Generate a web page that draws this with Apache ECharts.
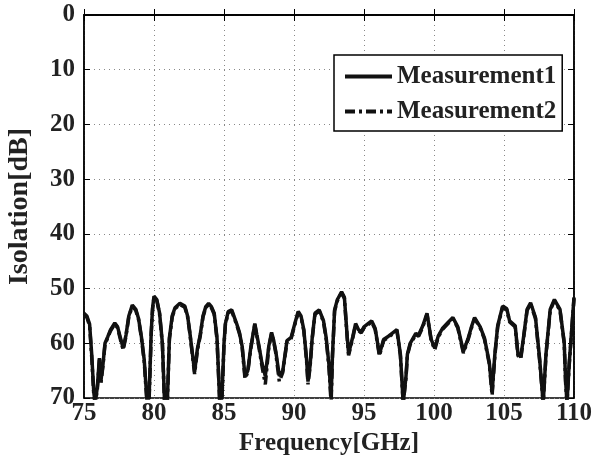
<!DOCTYPE html>
<html>
<head>
<meta charset="utf-8">
<script src="https://cdn.jsdelivr.net/npm/echarts@6/dist/echarts.min.js"></script>
<style>
html, body { margin: 0; padding: 0; background: #fff; }
#chart { width: 596px; height: 455px; }
</style>
</head>
<body>
<div id="chart"></div>
<script>
// frequency points (GHz)
var freq = [75.0, 75.2, 75.4, 75.55, 75.7, 75.8, 75.95, 76.1, 76.2, 76.35, 76.5, 76.7, 76.9, 77.2, 77.4, 77.6, 77.8, 78.0, 78.2, 78.45,
    78.7, 78.9, 79.1, 79.3, 79.5, 79.65, 79.8, 79.9, 80.0, 80.2, 80.4, 80.6, 80.75, 80.95, 81.1, 81.3, 81.5, 81.85, 82.2, 82.4,
    82.55, 82.75, 82.9, 83.1, 83.3, 83.5, 83.7, 83.9, 84.1, 84.3, 84.5, 84.7, 84.85, 85.0, 85.1, 85.3, 85.55, 85.9, 86.1, 86.3,
    86.5, 86.7, 86.9, 87.2, 87.35, 87.5, 87.7, 87.95, 88.2, 88.4, 88.55, 88.7, 88.95, 89.2, 89.5, 89.8, 90.1, 90.3, 90.5, 90.7,
    90.9, 91.0, 91.15, 91.3, 91.5, 91.8, 92.1, 92.3, 92.5, 92.65, 92.75, 92.9, 93.1, 93.4, 93.6, 93.8, 93.9, 94.2, 94.4, 94.6,
    94.8, 95.0, 95.2, 95.55, 95.8, 96.1, 96.4, 96.75, 97.1, 97.35, 97.6, 97.8, 98.0, 98.1, 98.3, 98.7, 98.9, 99.2, 99.5, 99.8,
    100.05, 100.3, 100.6, 101.0, 101.35, 101.7, 102.1, 102.45, 102.7, 102.9, 103.3, 103.6, 103.95, 104.15, 104.35, 104.55, 104.9, 105.2, 105.4, 105.8,
    106.0, 106.2, 106.4, 106.65, 106.9, 107.25, 107.55, 107.8, 108.0, 108.3, 108.6, 109.0, 109.3, 109.4, 109.5, 109.65, 109.8, 110.0];

// isolation [dB], Measurement1
var meas1 = [54.5, 55, 56.5, 62, 69, 71, 68, 62.7, 67, 64, 60, 58.8, 57.5, 56.3, 57, 59, 60.9, 58.5, 55, 53,
    53.8, 55.5, 58.8, 63, 70.5, 70, 58, 53.5, 51.4, 52, 54.5, 60, 70.5, 71, 59, 55, 53.5, 52.7, 53.2, 55,
    57.8, 62, 65.2, 61, 58.5, 55, 53.3, 52.7, 53.3, 54.5, 59, 71, 70, 60, 56.4, 54.2, 53.9, 56.4, 58, 60.6,
    66, 65, 61, 56.4, 58.5, 60.5, 63.5, 66, 60.5, 58, 59.5, 61.5, 66, 65, 59.5, 58.9, 56, 54.2, 55, 57.5,
    63, 67, 64, 59, 54.5, 53.9, 55.8, 59, 64, 70, 62, 53.9, 52, 50.6, 51.6, 58.8, 61.9, 58.8, 56.4, 57.5,
    57.9, 57, 56.6, 55.9, 57.3, 62, 59.3, 58.7, 58, 57.5, 62, 71, 66, 62, 60, 58.2, 58.5, 56.8, 54.5, 59.3,
    60.9, 58.7, 57.3, 56.2, 55.3, 57, 61.5, 59, 56.8, 55.3, 57, 59, 63.5, 69, 61.9, 56.8, 53.2, 53.7, 55.9, 56.8,
    62, 62.5, 58.8, 53.8, 52.6, 55.3, 63, 71, 61.9, 53.8, 52, 53.8, 59.8, 66.8, 71, 64, 58.8, 51.6];

// isolation [dB], Measurement2
var meas2 = [54.8, 55.2, 56.8, 62.5, 69.5, 71, 68.5, 63, 67.5, 64.2, 60.2, 59, 57.7, 56.5, 57.2, 59.3, 61.2, 58.7, 55.2, 53.2,
    54, 55.7, 59, 63.3, 71, 70.5, 58.3, 53.7, 51.6, 52.2, 54.7, 60.3, 71, 71, 59.3, 55.2, 53.7, 52.9, 53.4, 55.2,
    58, 62.3, 65.6, 61.3, 58.7, 55.2, 53.5, 52.9, 53.5, 54.7, 59.3, 71, 70.5, 60.3, 56.6, 54.4, 54.1, 56.6, 58.2, 60.8,
    66.5, 65.3, 61.2, 56.6, 58.7, 60.8, 64, 67.5, 60.8, 58.2, 59.7, 61.8, 67, 65.3, 59.7, 59.1, 56.2, 54.4, 55.2, 57.7,
    63.3, 67.5, 64.3, 59.2, 54.7, 54.1, 56, 59.3, 64.5, 71, 62.3, 54.1, 52.2, 50.8, 51.8, 59, 62.2, 59, 56.6, 57.7,
    58.1, 57.2, 56.8, 56.1, 57.5, 62.3, 59.5, 58.9, 58.2, 57.7, 62.3, 71, 66.3, 62.2, 60.2, 58.4, 58.7, 57, 54.7, 59.5,
    61.2, 58.9, 57.5, 56.4, 55.5, 57.2, 61.8, 59.2, 57, 55.5, 57.2, 59.2, 63.8, 69.5, 62.2, 57, 53.4, 53.9, 56.1, 57,
    62.3, 62.8, 59, 54, 52.8, 55.5, 63.3, 71, 62.2, 54, 52.2, 54, 60, 67.2, 71, 64.3, 59, 51.8];

var font = 'Liberation Serif';
var chart = echarts.init(document.getElementById('chart'));

function pairs(ys) {
    var out = [];
    for (var i = 0; i < freq.length; i++) {
        out.push([freq[i], ys[i]]);
    }
    return out;
}

var gridLine = { show: true, lineStyle: { color: '#888', type: [1, 4], width: 1 } };
var txt = { fontFamily: font, fontWeight: 'bold', fontSize: 25, color: '#222' };

chart.setOption({
    animation: false,
    backgroundColor: '#fff',
    grid: { left: 84, right: 22, top: 15, bottom: 57, show: true, borderColor: '#000', borderWidth: 1.5,
        containLabel: false, outerBoundsMode: 'none' },
    legend: {
        left: 334, top: 55,
        orient: 'vertical',
        itemWidth: 47, itemHeight: 14, itemGap: 10,
        padding: [9, 6, 7, 9],
        borderColor: '#000', borderWidth: 1.5,
        backgroundColor: '#fff',
        itemStyle: { opacity: 0 },
        lineStyle: { width: 4 },
        textStyle: txt,
        data: ['Measurement1', 'Measurement2']
    },
    xAxis: [{
        type: 'value', min: 75, max: 110, interval: 5,
        name: 'Frequency[GHz]', nameLocation: 'middle', nameGap: 30,
        nameTextStyle: txt,
        axisLine: { show: true, lineStyle: { color: '#000', width: 1.5 } },
        axisTick: { inside: true, length: 6, lineStyle: { color: '#000' } },
        axisLabel: Object.assign({ margin: 3 }, txt),
        splitLine: gridLine
    }, {
        type: 'value', min: 75, max: 110, interval: 5, position: 'top',
        axisLine: { show: true, lineStyle: { color: '#000', width: 1.5 } },
        axisTick: { inside: true, length: 6, lineStyle: { color: '#000' } },
        axisLabel: { show: false }, splitLine: { show: false }
    }],
    yAxis: [{
        type: 'value', min: 0, max: 70, interval: 10, inverse: true,
        name: 'Isolation[dB]', nameLocation: 'middle', nameGap: 50,
        nameTextStyle: Object.assign({}, txt, { fontSize: 28 }),
        axisLine: { show: true, lineStyle: { color: '#000', width: 1.5 } },
        axisTick: { inside: true, length: 6, lineStyle: { color: '#000' } },
        axisLabel: Object.assign({ margin: 9 }, txt),
        splitLine: gridLine
    }, {
        type: 'value', min: 0, max: 70, interval: 10, inverse: true, position: 'right',
        axisLine: { show: true, lineStyle: { color: '#000', width: 1.5 } },
        axisTick: { inside: true, length: 6, lineStyle: { color: '#000' } },
        axisLabel: { show: false }, splitLine: { show: false }
    }],
    series: [{
        name: 'Measurement1', type: 'line', symbol: 'none',
        data: pairs(meas1),
        lineStyle: { color: '#111', width: 3.5 },
        itemStyle: { color: '#111' }
    }, {
        name: 'Measurement2', type: 'line', symbol: 'none',
        data: pairs(meas2),
        lineStyle: { color: '#111', width: 3.5, type: [10, 4, 3, 4] },
        itemStyle: { color: '#111' }
    }]
});
</script>
</body>
</html>
